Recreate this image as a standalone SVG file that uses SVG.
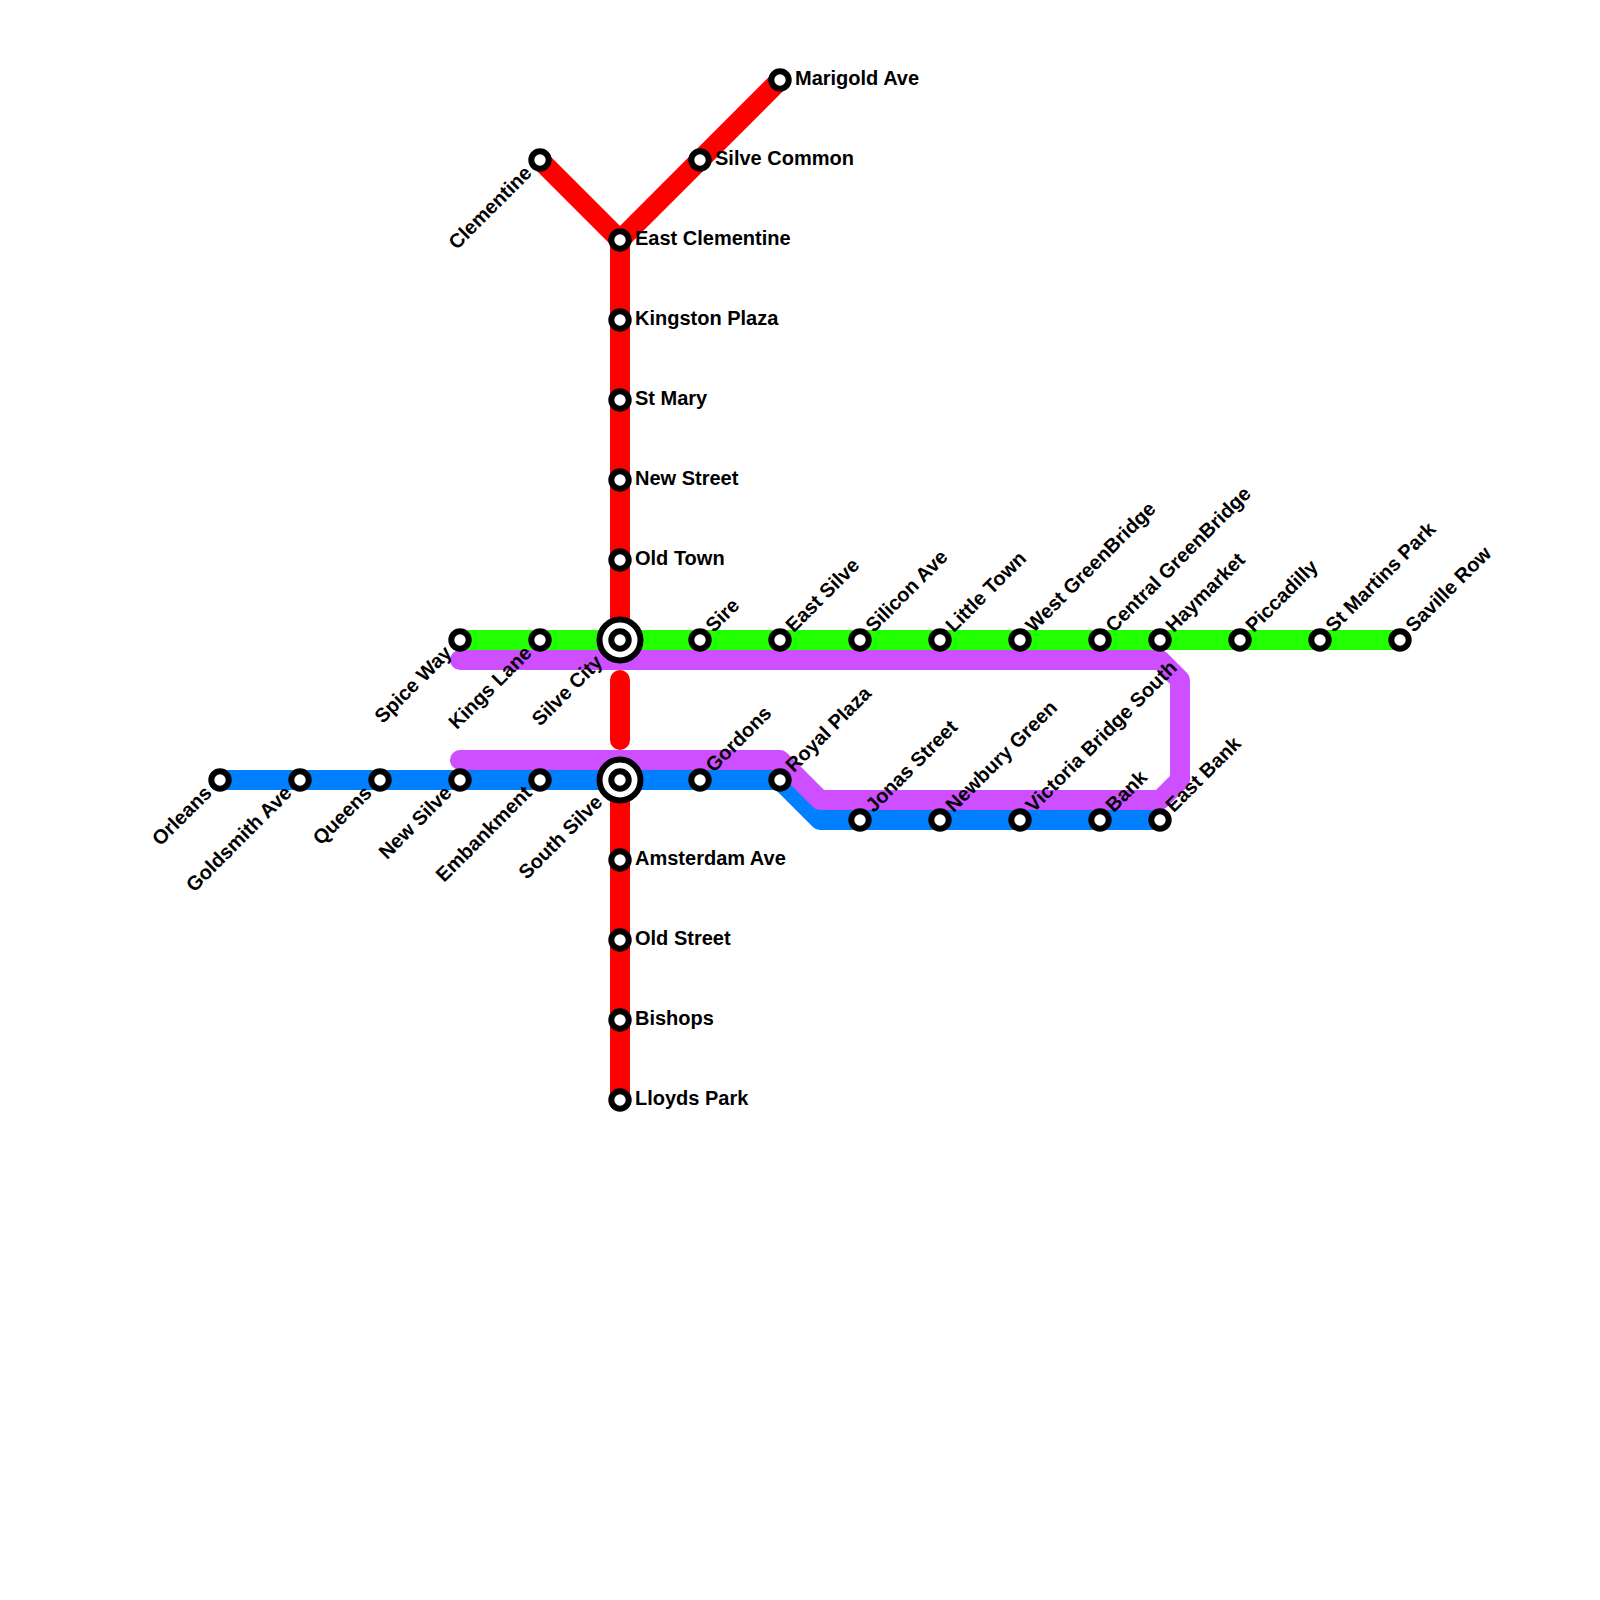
<svg xmlns="http://www.w3.org/2000/svg" width="1600" height="1600" viewBox="0 0 1600 1600">
<style>
.l{fill:none;stroke-width:20;stroke-linecap:round;stroke-linejoin:round}
.s{fill:#fff;stroke:#000;stroke-width:6}
text{font-family:"Liberation Sans",Arial,sans-serif;font-weight:bold;font-size:20px;fill:#000}
.e{text-anchor:end}
</style>
<rect width="1600" height="1600" fill="#fff"/>
<defs>
<g id="st"><circle class="s" r="8.7"/></g>
<g id="ic"><circle class="s" r="20.5"/><circle class="s" r="8.7"/></g>
</defs>
<g id="connectors">
<path class="l" stroke="#ff0000" d="M540 160L620 240L780 80M620 240V640M620 680V740M620 780V1100"/>
<path class="l" stroke="#22ff00" d="M460 640H1400"/>
<path class="l" stroke="#0080ff" d="M220 780H780L820 820H1160"/>
<path class="l" stroke="#cd4fff" d="M460 660H1160L1180 680V780L1160 800H820L780 760H460"/>
</g>
<g id="n-orleans" transform="translate(220 780)"><use href="#st"/><text class="e" transform="rotate(-45)" x="-15" y="5">Orleans</text></g>
<g id="n-goldsmith" transform="translate(300 780)"><use href="#st"/><text class="e" transform="rotate(-45)" x="-15" y="5">Goldsmith Ave</text></g>
<g id="n-queens" transform="translate(380 780)"><use href="#st"/><text class="e" transform="rotate(-45)" x="-15" y="5">Queens</text></g>
<g id="n-newsilve" transform="translate(460 780)"><use href="#st"/><text class="e" transform="rotate(-45)" x="-15" y="5">New Silve</text></g>
<g id="n-embankment" transform="translate(540 780)"><use href="#st"/><text class="e" transform="rotate(-45)" x="-15" y="5">Embankment</text></g>
<g id="n-southsilve" transform="translate(620 780)"><use href="#ic"/><text class="e" transform="rotate(-45)" x="-28" y="5">South Silve</text></g>
<g id="n-gordons" transform="translate(700 780)"><use href="#st"/><text transform="rotate(-45)" x="14.5" y="5">Gordons</text></g>
<g id="n-royalplaza" transform="translate(780 780)"><use href="#st"/><text transform="rotate(-45)" x="14.5" y="5">Royal Plaza</text></g>
<g id="n-jonas" transform="translate(860 820)"><use href="#st"/><text transform="rotate(-45)" x="14.5" y="5">Jonas Street</text></g>
<g id="n-newbury" transform="translate(940 820)"><use href="#st"/><text transform="rotate(-45)" x="14.5" y="5">Newbury Green</text></g>
<g id="n-victoria" transform="translate(1020 820)"><use href="#st"/><text transform="rotate(-45)" x="14.5" y="5">Victoria Bridge South</text></g>
<g id="n-bank" transform="translate(1100 820)"><use href="#st"/><text transform="rotate(-45)" x="14.5" y="5">Bank</text></g>
<g id="n-eastbank" transform="translate(1160 820)"><use href="#st"/><text transform="rotate(-45)" x="14.5" y="5">East Bank</text></g>
<g id="n-spiceway" transform="translate(460 640)"><use href="#st"/><text class="e" transform="rotate(-45)" x="-15" y="5">Spice Way</text></g>
<g id="n-kingslane" transform="translate(540 640)"><use href="#st"/><text class="e" transform="rotate(-45)" x="-15" y="5">Kings Lane</text></g>
<g id="n-silvecity" transform="translate(620 640)"><use href="#ic"/><text class="e" transform="rotate(-45)" x="-28" y="5">Silve City</text></g>
<g id="n-sire" transform="translate(700 640)"><use href="#st"/><text transform="rotate(-45)" x="14.5" y="5">Sire</text></g>
<g id="n-eastsilve" transform="translate(780 640)"><use href="#st"/><text transform="rotate(-45)" x="14.5" y="5">East Silve</text></g>
<g id="n-silicon" transform="translate(860 640)"><use href="#st"/><text transform="rotate(-45)" x="14.5" y="5">Silicon Ave</text></g>
<g id="n-littletown" transform="translate(940 640)"><use href="#st"/><text transform="rotate(-45)" x="14.5" y="5">Little Town</text></g>
<g id="n-westgb" transform="translate(1020 640)"><use href="#st"/><text transform="rotate(-45)" x="14.5" y="5">West GreenBridge</text></g>
<g id="n-centralgb" transform="translate(1100 640)"><use href="#st"/><text transform="rotate(-45)" x="14.5" y="5">Central GreenBridge</text></g>
<g id="n-haymarket" transform="translate(1160 640)"><use href="#st"/><text transform="rotate(-45)" x="14.5" y="5">Haymarket</text></g>
<g id="n-piccadilly" transform="translate(1240 640)"><use href="#st"/><text transform="rotate(-45)" x="14.5" y="5">Piccadilly</text></g>
<g id="n-stmartins" transform="translate(1320 640)"><use href="#st"/><text transform="rotate(-45)" x="14.5" y="5">St Martins Park</text></g>
<g id="n-saville" transform="translate(1400 640)"><use href="#st"/><text transform="rotate(-45)" x="14.5" y="5">Saville Row</text></g>
<g id="n-clementine" transform="translate(540 160)"><use href="#st"/><text class="e" transform="rotate(-45)" x="-15" y="5">Clementine</text></g>
<g id="n-marigold" transform="translate(780 80)"><use href="#st"/><text x="15" y="5">Marigold Ave</text></g>
<g id="n-silvecommon" transform="translate(700 160)"><use href="#st"/><text x="15" y="5">Silve Common</text></g>
<g id="n-eastclem" transform="translate(620 240)"><use href="#st"/><text x="15" y="5">East Clementine</text></g>
<g id="n-kingston" transform="translate(620 320)"><use href="#st"/><text x="15" y="5">Kingston Plaza</text></g>
<g id="n-stmary" transform="translate(620 400)"><use href="#st"/><text x="15" y="5">St Mary</text></g>
<g id="n-newstreet" transform="translate(620 480)"><use href="#st"/><text x="15" y="5">New Street</text></g>
<g id="n-oldtown" transform="translate(620 560)"><use href="#st"/><text x="15" y="5">Old Town</text></g>
<g id="n-amsterdam" transform="translate(620 860)"><use href="#st"/><text x="15" y="5">Amsterdam Ave</text></g>
<g id="n-oldstreet" transform="translate(620 940)"><use href="#st"/><text x="15" y="5">Old Street</text></g>
<g id="n-bishops" transform="translate(620 1020)"><use href="#st"/><text x="15" y="5">Bishops</text></g>
<g id="n-lloyds" transform="translate(620 1100)"><use href="#st"/><text x="15" y="5">Lloyds Park</text></g>
</svg>
